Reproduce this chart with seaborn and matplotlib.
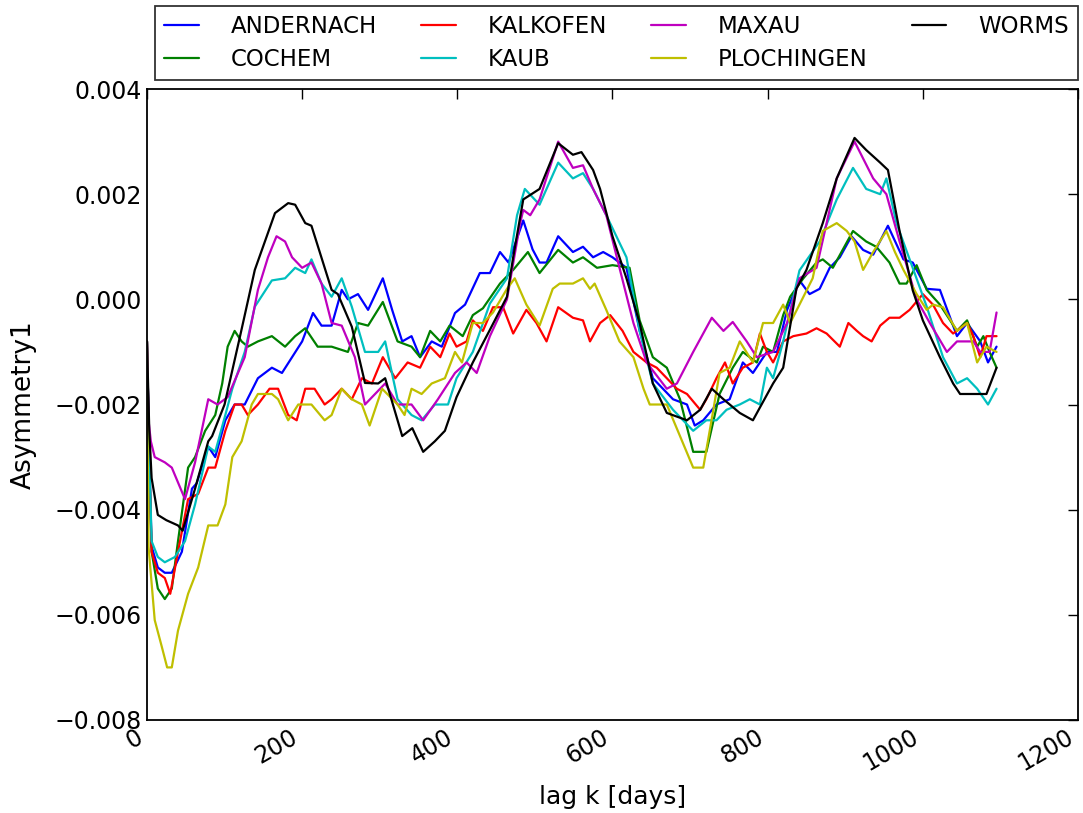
import numpy as np
import pandas as pd
import matplotlib
matplotlib.use("Agg")
import matplotlib.pyplot as plt
import seaborn as sns

# values, in units of 1e-3
andernach_day = [0, 3, 6, 14, 23, 32, 45, 58, 64, 79, 88, 101, 113, 126, 143, 161, 174, 187, 200, 214,
                 225, 238, 251, 259, 272, 285, 304, 316, 329, 341, 352, 367, 380, 397, 410, 429, 442, 455,
                 466, 485, 497, 506, 515, 530, 549, 562, 575, 588, 600, 618, 635, 652, 678, 696, 706, 717,
                 734, 751, 768, 781, 799, 812, 825, 841, 854, 867, 880, 893, 908, 923, 936, 955, 975, 987,
                 1005, 1022, 1044, 1057, 1074, 1084, 1095]
andernach_val = [-0.8, -3.0, -4.7, -5.1, -5.2, -5.2, -4.8, -3.6, -3.5, -2.8, -3.0, -2.3, -2.0, -2.0, -1.5,
                 -1.3, -1.4, -1.1, -0.8, -0.26, -0.5, -0.5, 0.18, 0.0, 0.1, -0.2, 0.4, -0.2, -0.8, -0.7,
                 -1.1, -0.8, -0.9, -0.26, -0.1, 0.5, 0.5, 0.9, 0.7, 1.5, 0.95, 0.7, 0.7, 1.2, 0.9, 1.0, 0.8,
                 0.9, 0.8, 0.6, -0.6, -1.5, -1.9, -2.0, -2.4, -2.3, -2.0, -1.9, -1.2, -1.4, -1.0, -1.0, -0.2,
                 0.36, 0.1, 0.2, 0.6, 0.8, 1.2, 0.94, 0.85, 1.4, 0.76, 0.7, 0.2, 0.18, -0.7, -0.45, -0.8,
                 -1.2, -0.9]

cochem_day = [0, 3, 6, 14, 23, 32, 40, 53, 62, 75, 88, 97, 104, 113, 122, 130, 143, 161, 178, 191, 204,
              220, 238, 259, 272, 285, 304, 323, 341, 352, 365, 378, 390, 407, 420, 433, 455, 472, 491, 506,
              530, 549, 562, 580, 600, 622, 635, 652, 670, 687, 704, 721, 738, 755, 768, 786, 794, 807, 820,
              829, 846, 863, 871, 884, 910, 927, 940, 957, 970, 979, 992, 1005, 1022, 1044, 1057, 1070,
              1078, 1086, 1095]
cochem_val = [-0.8, -3.2, -4.8, -5.5, -5.7, -5.5, -4.6, -3.2, -3.0, -2.5, -2.2, -1.6, -0.9, -0.6, -0.8,
              -0.9, -0.8, -0.7, -0.9, -0.7, -0.55, -0.9, -0.9, -1.0, -0.45, -0.5, -0.05, -0.8, -0.9, -1.1,
              -0.6, -0.8, -0.5, -0.7, -0.3, -0.17, 0.3, 0.56, 0.9, 0.5, 0.94, 0.7, 0.8, 0.6, 0.65, 0.6,
              -0.4, -1.1, -1.3, -1.9, -2.9, -2.9, -1.8, -1.3, -1.0, -1.2, -0.9, -1.0, -0.3, 0.05, 0.4, 0.7,
              0.76, 0.6, 1.3, 1.1, 1.0, 0.7, 0.3, 0.3, 0.65, 0.18, -0.1, -0.6, -0.4, -0.9, -0.7, -1.0, -1.3]

kalkofen_day = [0, 3, 6, 14, 23, 30, 40, 53, 66, 79, 88, 101, 113, 122, 130, 143, 158, 169, 182, 193, 204,
                216, 229, 238, 251, 264, 277, 290, 304, 320, 336, 352, 365, 378, 390, 399, 412, 420, 433,
                446, 459, 472, 489, 502, 515, 530, 549, 562, 571, 584, 597, 613, 627, 644, 657, 670, 683,
                696, 713, 721, 734, 745, 755, 768, 781, 790, 799, 807, 820, 833, 850, 863, 876, 893, 904,
                915, 923, 934, 945, 957, 970, 983, 1000, 1013, 1026, 1039, 1057, 1065, 1074, 1082, 1095]
kalkofen_val = [-0.8, -3.0, -4.8, -5.2, -5.3, -5.6, -4.8, -3.8, -3.7, -3.2, -3.2, -2.5, -2.0, -2.0, -2.2,
                -2.0, -1.7, -1.7, -2.2, -2.3, -1.7, -1.7, -2.0, -1.9, -1.7, -1.9, -1.5, -1.6, -1.1, -1.5,
                -1.2, -1.3, -0.9, -1.1, -0.65, -0.9, -0.8, -0.4, -0.6, -0.15, -0.15, -0.65, -0.2, -0.45,
                -0.8, -0.15, -0.35, -0.4, -0.8, -0.45, -0.3, -0.6, -1.0, -1.2, -1.3, -1.5, -1.7, -1.8, -2.1,
                -1.9, -1.5, -1.2, -1.6, -1.3, -1.2, -0.65, -1.0, -1.2, -0.8, -0.7, -0.65, -0.55, -0.65, -0.9,
                -0.45, -0.6, -0.7, -0.8, -0.5, -0.35, -0.35, -0.2, 0.1, -0.1, -0.45, -0.65, -0.45, -0.7,
                -1.1, -0.7, -0.7]

kaub_day = [0, 3, 6, 14, 23, 36, 49, 62, 79, 88, 101, 110, 126, 139, 161, 178, 191, 204, 212, 225, 238,
            251, 264, 281, 298, 307, 323, 341, 354, 371, 388, 399, 420, 442, 464, 477, 487, 506, 530, 549,
            562, 575, 592, 618, 635, 652, 678, 704, 721, 734, 747, 764, 777, 790, 799, 807, 820, 841, 867,
            889, 910, 927, 945, 953, 966, 983, 1005, 1026, 1044, 1057, 1070, 1084, 1095]
kaub_val = [-0.8, -3.0, -4.6, -4.9, -5.0, -4.9, -4.6, -3.9, -2.8, -2.9, -2.2, -1.7, -1.0, -0.14, 0.36, 0.4,
            0.6, 0.5, 0.76, 0.3, 0.05, 0.4, -0.14, -1.0, -1.0, -0.8, -1.9, -2.2, -2.3, -2.0, -2.0, -1.5,
            -1.0, -0.08, 0.4, 1.6, 2.1, 1.8, 2.6, 2.3, 2.4, 2.1, 1.6, 0.8, -0.6, -1.6, -2.1, -2.5, -2.3,
            -2.3, -2.1, -2.0, -1.9, -2.0, -1.3, -1.5, -0.8, 0.55, 1.1, 1.9, 2.5, 2.1, 2.0, 2.3, 1.45, 0.76,
            -0.14, -1.1, -1.6, -1.5, -1.7, -2.0, -1.7]

maxau_day = [0, 2, 5, 10, 23, 32, 49, 62, 79, 91, 104, 126, 143, 156, 167, 178, 187, 200, 212, 225, 238,
             251, 268, 281, 294, 307, 323, 341, 356, 375, 397, 412, 425, 442, 464, 481, 485, 494, 506, 530,
             549, 562, 575, 592, 609, 627, 644, 670, 683, 704, 728, 743, 755, 773, 786, 807, 825, 841, 863,
             889, 912, 936, 953, 970, 992, 1009, 1031, 1044, 1065, 1074, 1086, 1095]
maxau_val = [-0.8, -2.3, -2.7, -3.0, -3.1, -3.2, -3.8, -3.1, -1.9, -2.0, -1.86, -1.1, 0.18, 0.8, 1.2, 1.1,
             0.8, 0.6, 0.7, 0.3, -0.45, -0.5, -1.1, -2.0, -1.8, -1.6, -2.0, -2.0, -2.3, -1.9, -1.4, -1.2,
             -1.4, -0.7, 0.0, 1.45, 1.7, 1.6, 1.9, 3.0, 2.5, 2.55, 2.1, 1.6, 0.6, -0.45, -1.2, -1.7, -1.6,
             -1.0, -0.35, -0.6, -0.43, -0.8, -1.1, -1.0, -0.45, 0.4, 0.6, 2.3, 3.0, 2.3, 2.0, 1.1, 0.0,
             -0.45, -1.0, -0.8, -0.8, -1.0, -1.0, -0.25]

plochingen_day = [0, 2, 10, 19, 26, 32, 40, 53, 66, 79, 91, 101, 110, 122, 135, 143, 161, 169, 182, 195,
                  212, 229, 238, 251, 264, 277, 287, 303, 323, 332, 341, 354, 367, 384, 397, 406, 420, 433,
                  446, 464, 474, 489, 506, 523, 532, 549, 562, 571, 577, 592, 609, 627, 640, 648, 670, 687,
                  704, 717, 730, 738, 751, 764, 781, 794, 807, 820, 829, 841, 858, 871, 889, 902, 912, 923,
                  936, 953, 964, 975, 992, 1005, 1013, 1026, 1044, 1057, 1070, 1082, 1095]
plochingen_val = [-0.8, -4.7, -6.1, -6.6, -7.0, -7.0, -6.3, -5.6, -5.1, -4.3, -4.3, -3.9, -3.0, -2.7, -2.0,
                  -1.8, -1.8, -1.9, -2.3, -2.0, -2.0, -2.3, -2.2, -1.7, -1.9, -2.0, -2.4, -1.7, -2.0, -2.2,
                  -1.7, -1.8, -1.6, -1.5, -1.0, -1.2, -0.45, -0.45, -0.25, 0.2, 0.4, -0.1, -0.5, 0.2, 0.3,
                  0.3, 0.4, 0.2, 0.3, -0.2, -0.8, -1.1, -1.7, -2.0, -2.0, -2.6, -3.2, -3.2, -2.1, -1.4, -1.3,
                  -0.8, -1.2, -0.45, -0.45, -0.1, -0.45, -0.1, 0.4, 1.3, 1.45, 1.3, 1.1, 0.56, 0.9, 1.3,
                  0.9, 0.56, 0.1, -0.2, -0.1, -0.15, -0.6, -0.45, -1.2, -0.9, -1.0]

worms_day = [0, 3, 6, 14, 25, 40, 46, 62, 79, 84, 100, 120, 139, 165, 182, 191, 204, 212, 238, 246, 264,
             281, 298, 307, 329, 342, 356, 371, 384, 399, 420, 442, 464, 472, 485, 506, 530, 549, 560, 575,
             584, 600, 618, 635, 652, 670, 696, 713, 728, 743, 764, 781, 807, 820, 837, 850, 871, 889, 912,
             927, 945, 955, 970, 987, 1000, 1022, 1039, 1048, 1065, 1082, 1095]
worms_val = [-0.8, -2.5, -3.4, -4.1, -4.2, -4.3, -4.4, -3.6, -2.7, -2.6, -2.0, -0.7, 0.56, 1.64, 1.83, 1.8,
             1.45, 1.4, 0.18, 0.1, -0.52, -1.59, -1.6, -1.5, -2.6, -2.45, -2.9, -2.7, -2.5, -1.86, -1.2,
             -0.58, 0.05, 0.8, 1.9, 2.1, 2.97, 2.75, 2.8, 2.46, 2.1, 1.2, 0.4, -0.45, -1.6, -2.16, -2.3,
             -2.1, -1.7, -1.9, -2.16, -2.3, -1.6, -1.3, 0.2, 0.56, 1.45, 2.3, 3.07, 2.84, 2.6, 2.46, 1.3,
             0.17, -0.4, -1.1, -1.6, -1.8, -1.8, -1.8, -1.3]

stations = ["ANDERNACH", "COCHEM", "KALKOFEN", "KAUB", "MAXAU", "PLOCHINGEN", "WORMS"]
days = [andernach_day, cochem_day, kalkofen_day, kaub_day, maxau_day, plochingen_day, worms_day]
vals = [andernach_val, cochem_val, kalkofen_val, kaub_val, maxau_val, plochingen_val, worms_val]
colors = ["#0000ff", "#008000", "#ff0000", "#00bfbf", "#bf00bf", "#bfbf00", "#000000"]

frames = []
for name, d, v in zip(stations, days, vals):
    frames.append(pd.DataFrame({"day": d, "value": np.array(v) * 1e-3, "station": name}))
df = pd.concat(frames, ignore_index=True)

sns.set_style("white")
plt.rcParams["font.family"] = ["DejaVu Sans"]
plt.rcParams["axes.edgecolor"] = "black"
plt.rcParams["axes.linewidth"] = 1.3
plt.rcParams["text.color"] = "black"
plt.rcParams["axes.labelcolor"] = "black"

fig = plt.figure(figsize=(10.83, 8.13), dpi=100)
ax = fig.add_axes([0.1357, 0.1144, 0.8597, 0.7761])

sns.lineplot(data=df, x="day", y="value", hue="station", hue_order=stations,
             palette=dict(zip(stations, colors)), estimator=None, sort=True,
             linewidth=1.6, ax=ax)

ax.set_xlim(0, 1200)
ax.set_ylim(-0.008, 0.004)
ax.set_xticks(np.arange(0, 1201, 200))
ax.set_yticks(np.arange(-0.008, 0.0041, 0.002))
ax.yaxis.set_major_formatter(matplotlib.ticker.FuncFormatter(
    lambda v, pos: f"{v:.3f}".replace("-", "\u2212") if abs(v) > 1e-12 else "0.000"))
ax.tick_params(direction="in", length=7, width=1, top=True, right=True,
               labelsize=17, colors="black")
for lab in ax.get_xticklabels():
    lab.set_rotation(30)
    lab.set_ha("right")
ax.set_xlabel("lag k [days]", fontsize=18, labelpad=7)
ax.set_ylabel("Asymmetry1", fontsize=19, labelpad=13)

handles, labels = ax.get_legend_handles_labels()
leg = ax.legend(handles, labels, ncol=4, mode="expand", loc="lower left",
                bbox_to_anchor=(0.0086, 1.014, 0.9914, 0.111), borderaxespad=0,
                fontsize=16.5, frameon=True, fancybox=False, handlelength=1.5,
                handletextpad=1.4, labelspacing=0.42)
leg.get_frame().set_edgecolor("black")
leg.get_frame().set_linewidth(1.3)

fig.savefig("out.png", dpi=100)
